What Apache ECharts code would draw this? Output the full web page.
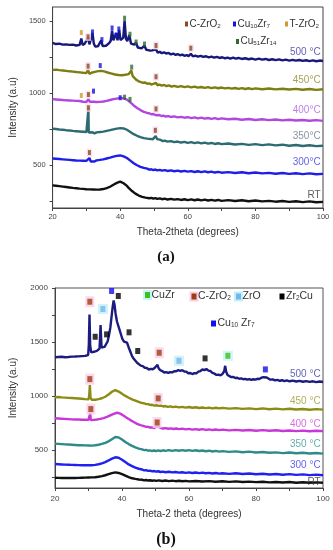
<!DOCTYPE html>
<html><head><meta charset="utf-8">
<script src="https://cdn.jsdelivr.net/npm/echarts@6/dist/echarts.min.js"></script>
<style>html,body{margin:0;padding:0;background:#fff}#c{width:333px;height:550px}</style>
</head><body><div id="c"></div>
<script>
// ---------- Panel (a) curves: [2theta, intensity] ----------
const a500 = [[20,1350],[20.5,1358],[21,1342],[21.5,1352],[22,1345],[22.5,1354],[23,1338],[23.5,1348],[24,1340],[24.5,1350],[25,1336],[25.5,1346],[26,1338],[26.5,1345],[27,1332],[27.5,1342],[28,1336],[28.5,1380],[28.9,1335],[29.5,1344],[30,1338],[30.5,1388],[30.9,1340],[31.3,1350],[31.8,1420],[32.2,1345],[32.6,1325],[33,1318],[33.4,1326],[33.9,1330],[34.4,1368],[34.8,1328],[35.3,1322],[35.8,1330],[36.3,1340],[36.8,1350],[37.2,1365],[37.6,1435],[38,1368],[38.4,1372],[38.8,1418],[39.2,1368],[39.7,1440],[40.1,1370],[40.5,1362],[40.9,1385],[41.3,1505],[41.7,1380],[42.1,1362],[42.7,1405],[43.2,1345],[43.7,1332],[44.2,1338],[44.7,1352],[45.2,1318],[45.7,1322],[46.3,1312],[46.8,1318],[47.2,1330],[47.7,1302],[48.3,1300],[48.9,1296],[49.5,1298],[50,1292],[50.6,1305],[51.1,1282],[51.7,1288],[52.3,1278],[53,1284],[53.6,1276],[54.3,1280],[55,1270],[55.7,1276],[56.4,1266],[57,1272],[57.7,1264],[58.4,1268],[59,1260],[59.7,1265],[60.3,1258],[60.9,1275],[61.5,1256],[62.2,1262],[63,1254],[63.8,1259],[64.6,1252],[65.4,1257],[66.2,1249],[67,1254],[67.8,1247],[68.6,1252],[69.4,1245],[70.2,1250],[71,1243],[71.8,1248],[72.6,1241],[73.4,1247],[74.2,1240],[75,1245],[76,1238],[77,1243],[78,1236],[79,1241],[80,1234],[81,1240],[82,1233],[83,1238],[84,1231],[85,1236],[86,1230],[87,1235],[88,1228],[89,1233],[90,1227],[91,1232],[92,1226],[93,1231],[94,1225],[95,1229],[96,1223],[97,1228],[98,1222],[99,1227],[100,1224]];
const a450 = [[20,1162],[20.5,1156],[21,1164],[21.5,1155],[22,1160],[22.5,1150],[23,1158],[23.5,1148],[24,1155],[24.5,1146],[25,1152],[25.5,1144],[26,1150],[26.5,1141],[27,1147],[27.5,1139],[28,1145],[28.5,1136],[29,1142],[29.5,1134],[30,1140],[30.5,1162],[30.9,1134],[31.5,1142],[32,1138],[32.5,1148],[33,1143],[33.5,1153],[34,1146],[34.5,1155],[35,1146],[35.5,1150],[36,1138],[36.5,1142],[37,1132],[37.5,1136],[38,1126],[38.5,1130],[39,1121],[39.5,1126],[40,1118],[40.5,1125],[41,1120],[41.5,1128],[42,1124],[42.5,1132],[43,1136],[43.3,1158],[43.7,1118],[44.2,1105],[44.7,1094],[45.2,1090],[45.7,1080],[46.2,1082],[46.8,1072],[47.4,1074],[48,1065],[48.6,1068],[49.2,1060],[49.8,1064],[50.3,1058],[50.6,1072],[51,1055],[51.6,1060],[52.3,1052],[53,1057],[53.7,1049],[54.4,1054],[55.2,1046],[56,1051],[57,1044],[58,1049],[59,1042],[60,1047],[61,1040],[62,1045],[63,1038],[64,1043],[65,1037],[66,1042],[67,1035],[68,1040],[69,1034],[70,1039],[71,1033],[72,1037],[73,1031],[74,1036],[75,1030],[76,1035],[77,1029],[78,1034],[79,1028],[80,1033],[82,1027],[84,1032],[86,1026],[88,1031],[90,1025],[92,1030],[94,1024],[96,1029],[98,1023],[100,1027]];
const a400 = [[20,958],[20.5,950],[21,956],[21.5,948],[22,954],[22.5,946],[23,952],[23.5,944],[24,950],[24.5,943],[25,949],[25.5,941],[26,948],[26.5,940],[27,946],[27.5,939],[28,945],[28.5,952],[29,940],[29.5,946],[30,938],[30.6,958],[31,940],[31.5,946],[32,940],[32.5,945],[33,938],[33.5,944],[34,939],[34.5,946],[35,942],[35.5,950],[36,946],[36.5,954],[37,952],[37.5,960],[38,958],[38.5,966],[39,962],[39.5,970],[40,966],[40.5,972],[41,964],[41.5,966],[42,955],[42.5,950],[43,936],[43.5,926],[44,914],[44.5,906],[45,896],[45.5,892],[46,882],[46.5,878],[47,870],[47.5,868],[48,862],[48.6,860],[49.2,853],[49.8,855],[50.4,848],[50.6,856],[51,846],[51.6,848],[52.2,841],[52.8,843],[53.5,837],[54.2,840],[55,834],[56,838],[57,831],[58,835],[59,829],[60,833],[61,826],[62,831],[63,824],[64,829],[65,822],[66,827],[67,821],[68,826],[69,819],[70,824],[72,818],[74,822],[76,815],[78,820],[80,813],[82,818],[84,812],[86,816],[88,810],[90,815],[92,809],[94,813],[96,808],[98,812],[100,807]];
const a350 = [[20,752],[20.5,742],[21,750],[21.5,740],[22,747],[22.5,737],[23,745],[23.5,735],[24,742],[24.5,732],[25,740],[25.5,730],[26,737],[26.5,728],[27,735],[27.5,726],[28,733],[28.5,724],[29,731],[29.5,723],[30,729],[30.5,724],[30.6,892],[30.7,726],[31.2,720],[31.8,728],[32.4,720],[33,727],[33.5,721],[34,729],[34.5,724],[35,732],[35.5,728],[36,737],[36.5,733],[37,742],[37.5,738],[38,748],[38.5,743],[39,753],[39.5,747],[40,756],[40.5,749],[41,754],[41.5,745],[42,745],[42.5,735],[43,730],[43.5,720],[44,714],[44.5,706],[45,703],[45.5,695],[46,694],[46.5,687],[47,687],[47.5,681],[48,683],[48.5,678],[49,681],[49.6,678],[50.1,684],[50.5,702],[50.9,680],[51.4,672],[52,674],[52.6,666],[53.2,669],[54,662],[55,666],[56,659],[57,663],[58,656],[59,661],[60,654],[61,659],[62,652],[63,657],[64,650],[65,655],[66,648],[67,653],[68,646],[69,651],[70,645],[72,649],[74,642],[76,647],[78,640],[80,645],[82,638],[84,643],[86,636],[88,641],[90,634],[92,639],[94,632],[96,637],[98,631],[100,634]];
const a300 = [[20,545],[20.5,537],[21,543],[21.5,535],[22,541],[22.5,533],[23,539],[23.5,531],[24,537],[24.5,529],[25,535],[25.5,527],[26,533],[26.5,525],[27,531],[27.5,524],[28,530],[28.5,523],[29,529],[29.5,522],[30,528],[30.5,530],[30.9,548],[31.3,524],[31.8,530],[32.4,524],[33,532],[33.5,527],[34,535],[34.5,530],[35,539],[35.5,535],[36,545],[36.5,541],[37,551],[37.5,548],[38,558],[38.5,554],[39,563],[39.5,558],[40,566],[40.5,558],[41,560],[41.5,550],[42,548],[42.5,536],[43,530],[43.5,518],[44,512],[44.5,502],[45,498],[45.5,489],[46,487],[46.5,479],[47,479],[47.5,472],[48,474],[48.6,467],[49.2,470],[49.8,464],[50.4,468],[51,462],[51.7,466],[52.4,460],[53.2,464],[54,458],[55,462],[56,456],[57,460],[58,454],[59,459],[60,453],[61,457],[62,451],[63,456],[64,450],[65,455],[66,449],[67,453],[68,447],[69,452],[70,446],[72,450],[74,444],[76,449],[78,442],[80,447],[82,441],[84,445],[86,439],[88,444],[90,438],[92,442],[94,436],[96,441],[98,435],[100,438]];
const aRT = [[20,358],[20.5,350],[21,355],[21.5,347],[22,352],[22.5,344],[23,349],[23.5,341],[24,346],[24.5,338],[25,343],[25.5,335],[26,340],[26.5,333],[27,338],[27.5,330],[28,335],[28.5,328],[29,333],[29.5,326],[30,331],[30.5,325],[31,330],[31.5,324],[32,329],[32.5,323],[33,328],[33.5,323],[34,329],[34.5,325],[35,332],[35.5,330],[36,338],[36.5,338],[37,348],[37.5,350],[38,362],[38.5,365],[39,375],[39.5,376],[40,384],[40.5,376],[41,372],[41.5,360],[42,354],[42.5,340],[43,332],[43.5,318],[44,312],[44.5,300],[45,297],[45.5,287],[46,286],[46.5,278],[47,279],[47.5,272],[48,274],[48.6,268],[49.2,271],[49.8,265],[50.4,269],[51,263],[51.7,267],[52.4,261],[53.2,265],[54,259],[55,264],[56,258],[57,262],[58,256],[59,261],[60,255],[61,260],[62,254],[63,259],[64,253],[65,258],[66,252],[67,257],[68,251],[69,256],[70,250],[72,255],[74,249],[76,254],[78,247],[80,252],[82,246],[84,250],[86,244],[88,249],[90,243],[92,247],[94,241],[96,246],[98,240],[100,243]];

// ---------- Panel (b) curves ----------
const b500 = [[20,1360],[20.5,1350],[21,1362],[21.5,1352],[22,1364],[22.5,1354],[23,1360],[23.5,1350],[24,1362],[24.5,1352],[25,1365],[25.5,1355],[26,1366],[26.5,1356],[27,1368],[27.5,1358],[28,1370],[28.5,1360],[29,1372],[29.5,1364],[29.9,1380],[30.1,1480],[30.3,1755],[30.5,1470],[30.8,1405],[31.2,1398],[31.6,1410],[32,1402],[32.5,1418],[33,1412],[33.3,1440],[33.6,1657],[33.9,1450],[34.3,1448],[34.8,1455],[35.3,1470],[35.7,1505],[36.1,1560],[36.5,1630],[36.9,1740],[37.2,1820],[37.5,1885],[37.8,1840],[38.1,1760],[38.5,1690],[38.9,1650],[39.3,1610],[39.7,1570],[40.1,1530],[40.6,1505],[41.1,1492],[41.5,1495],[42,1450],[42.5,1410],[43,1370],[43.5,1345],[44,1330],[44.5,1308],[45,1298],[45.6,1282],[46.2,1278],[46.8,1262],[47.4,1260],[48,1246],[48.6,1252],[49.2,1248],[49.8,1262],[50.3,1275],[50.6,1290],[50.9,1260],[51.4,1240],[52,1232],[52.6,1218],[53.2,1222],[53.8,1214],[54.4,1222],[55,1220],[55.6,1230],[56.2,1230],[56.8,1240],[57.4,1234],[58,1240],[58.6,1228],[59.2,1226],[59.8,1212],[60.4,1214],[61,1204],[61.6,1212],[62.2,1210],[62.8,1226],[63.4,1232],[64,1246],[64.6,1240],[65.2,1250],[65.8,1236],[66.4,1232],[67,1214],[67.6,1208],[68.2,1196],[68.8,1198],[69.4,1192],[70,1205],[70.5,1230],[70.8,1280],[71.1,1225],[71.5,1195],[72,1184],[72.6,1176],[73.2,1178],[73.8,1168],[74.4,1170],[75,1160],[75.6,1164],[76.2,1156],[76.8,1160],[77.4,1152],[78,1158],[78.6,1150],[79.2,1156],[79.8,1152],[80.4,1160],[81,1158],[81.6,1170],[82.2,1175],[82.7,1190],[83.2,1172],[83.7,1160],[84.3,1152],[85,1154],[85.7,1145],[86.4,1150],[87.1,1142],[87.8,1147],[88.5,1139],[89.2,1145],[90,1137],[91,1143],[92,1135],[93,1141],[94,1133],[95,1139],[96,1131],[97,1137],[98,1129],[99,1135],[100,1130]];
const b450 = [[20,990],[20.5,982],[21,992],[21.5,980],[22,988],[22.5,978],[23,986],[23.5,976],[24,984],[24.5,974],[25,982],[25.5,972],[26,980],[26.5,970],[27,978],[27.5,968],[28,975],[28.5,966],[29,972],[29.5,964],[30,970],[30.2,1000],[30.4,1102],[30.6,985],[31,966],[31.5,972],[32,966],[32.5,975],[33,972],[33.5,982],[34,980],[34.5,992],[35,994],[35.5,1008],[36,1015],[36.5,1032],[37,1040],[37.5,1058],[38,1055],[38.5,1060],[39,1042],[39.5,1040],[40,1022],[40.5,1018],[41,1002],[41.5,998],[42,985],[42.5,982],[43,970],[43.5,968],[44,958],[44.5,955],[45,946],[45.5,944],[46,935],[46.6,934],[47.2,926],[47.8,926],[48.4,918],[49,920],[49.6,912],[50.2,915],[50.6,928],[51,910],[51.6,912],[52.3,904],[53,908],[53.7,900],[54.4,905],[55.2,898],[56,903],[57,896],[58,901],[59,894],[60,899],[61,892],[62,897],[63,890],[64,895],[65,889],[66,894],[67,887],[68,892],[69,886],[70,891],[72,884],[74,889],[76,882],[78,887],[80,880],[82,886],[84,879],[86,884],[88,877],[90,883],[92,876],[94,881],[96,874],[98,880],[100,875]];
const b400 = [[20,795],[20.5,786],[21,793],[21.5,784],[22,791],[22.5,782],[23,789],[23.5,780],[24,787],[24.5,778],[25,785],[25.5,777],[26,784],[26.5,776],[27,783],[27.5,775],[28,782],[28.5,774],[29,781],[29.5,773],[30,780],[30.3,782],[30.5,842],[30.7,778],[31,772],[31.5,780],[32,775],[32.5,784],[33,780],[33.5,790],[34,786],[34.5,797],[35,795],[35.5,808],[36,808],[36.5,822],[37,824],[37.5,836],[38,836],[38.5,846],[39,840],[39.5,838],[40,826],[40.5,818],[41,806],[41.5,798],[42,786],[42.5,778],[43,766],[43.5,760],[44,748],[44.5,743],[45,734],[45.5,731],[46,724],[46.6,722],[47.2,715],[47.8,716],[48.4,709],[49,711],[49.6,705],[50.1,710],[50.5,722],[50.9,704],[51.5,707],[52.2,700],[53,704],[53.8,698],[54.6,702],[55.4,696],[56.2,700],[57,694],[58,699],[59,692],[60,697],[61,690],[62,695],[63,689],[64,694],[65,687],[66,692],[67,686],[68,691],[69,685],[70,690],[72,683],[74,688],[76,682],[78,687],[80,680],[82,685],[84,679],[86,684],[88,677],[90,682],[92,676],[94,681],[96,675],[98,680],[100,676]];
const b350 = [[20,560],[20.5,550],[21,558],[21.5,548],[22,556],[22.5,546],[23,554],[23.5,544],[24,552],[24.5,542],[25,550],[25.5,540],[26,548],[26.5,538],[27,546],[27.5,537],[28,545],[28.5,536],[29,544],[29.5,535],[30,543],[30.5,535],[31,542],[31.5,536],[32,545],[32.5,540],[33,550],[33.5,547],[34,558],[34.5,556],[35,568],[35.5,568],[36,582],[36.5,586],[37,602],[37.5,608],[38,622],[38.5,620],[39,618],[39.5,606],[40,598],[40.5,584],[41,576],[41.5,562],[42,556],[42.5,544],[43,540],[43.5,528],[44,526],[44.5,516],[45,515],[45.5,506],[46,507],[46.6,500],[47.2,502],[47.8,495],[48.4,498],[49,492],[49.6,497],[50.2,491],[50.8,498],[51.5,492],[52.2,499],[53,493],[54,500],[55,494],[56,501],[57,495],[58,501],[59,495],[60,500],[61,494],[62,499],[63,492],[64,497],[65,490],[66,495],[67,488],[68,493],[69,486],[70,491],[72,484],[74,489],[76,481],[78,486],[80,478],[82,483],[84,476],[86,480],[88,473],[90,478],[92,471],[94,476],[96,469],[98,474],[100,468]];
const b300 = [[20,372],[20.5,362],[21,370],[21.5,360],[22,368],[22.5,358],[23,366],[23.5,357],[24,365],[24.5,356],[25,364],[25.5,355],[26,363],[26.5,354],[27,362],[27.5,353],[28,361],[28.5,352],[29,360],[29.5,352],[30,360],[30.5,353],[31,361],[31.5,355],[32,364],[32.5,360],[33,370],[33.5,368],[34,378],[34.5,378],[35,390],[35.5,392],[36,405],[36.5,410],[37,422],[37.5,426],[38,434],[38.5,432],[39,430],[39.5,420],[40,412],[40.5,398],[41,390],[41.5,375],[42,368],[42.5,356],[43,352],[43.5,340],[44,338],[44.5,328],[45,328],[45.5,320],[46,321],[46.6,313],[47.2,315],[47.8,308],[48.4,311],[49,304],[49.6,307],[50.2,301],[50.8,305],[51.5,298],[52.2,302],[53,296],[54,300],[55,294],[56,298],[57,292],[58,296],[59,290],[60,295],[61,289],[62,293],[63,287],[64,292],[65,286],[66,290],[67,284],[68,289],[69,283],[70,287],[72,281],[74,286],[76,279],[78,284],[80,277],[82,282],[84,275],[86,280],[88,273],[90,278],[92,271],[94,276],[96,269],[98,274],[100,268]];
const bRT = [[20,245],[20.5,238],[21,244],[21.5,237],[22,243],[22.5,236],[23,242],[23.5,236],[24,242],[24.5,236],[25,242],[25.5,237],[26,243],[26.5,237],[27,244],[27.5,238],[28,245],[28.5,239],[29,246],[29.5,240],[30,247],[30.5,241],[31,248],[31.5,243],[32,250],[32.5,246],[33,254],[33.5,252],[34,260],[34.5,260],[35,268],[35.5,270],[36,278],[36.5,282],[37,288],[37.5,290],[38,294],[38.5,290],[39,289],[39.5,282],[40,278],[40.5,268],[41,264],[41.5,254],[42,250],[42.5,242],[43,240],[43.5,234],[44,234],[44.5,228],[45,229],[45.5,224],[46,226],[46.6,221],[47.2,224],[47.8,219],[48.4,222],[49,217],[49.6,221],[50.2,216],[51,220],[52,215],[53,219],[54,214],[55,218],[56,213],[57,217],[58,212],[59,216],[60,211],[62,215],[64,210],[66,214],[68,208],[70,212],[72,207],[74,211],[76,205],[78,209],[80,204],[82,208],[84,202],[86,206],[88,201],[90,205],[92,199],[94,203],[96,198],[98,202],[100,199]];

// ---------- Phase markers ----------
const aMarkCZrO2   = [[30.5,1392],[50.6,1332],[60.9,1313],[30.5,1188],[50.6,1114],[30.6,990],[50.6,890],[30.6,898],[50.4,741],[30.9,586]];
const aMarkCu10Zr7 = [[31.8,1426],[34.6,1373],[37.6,1454],[38.8,1405],[39.6,1447],[34.1,1192],[32.1,1014],[40.0,968]];
const aMarkTZrO2   = [[28.5,1422],[28.5,984]];
const aMarkCu51Zr14= [[41.3,1522],[42.9,1410],[44.7,1356],[47.2,1342],[43.4,1181],[41.3,972],[42.9,956]];
const bMarkCuZr    = [[71.6,1373]];
const bMarkCZrO2   = [[30.4,1873],[51.1,1401],[30.4,1157],[50.8,979],[30.7,880],[50.5,756]];
const bMarkZrO     = [[34.3,1806],[57.0,1327]];
const bMarkZr2Cu   = [[32.0,1549],[35.4,1571],[38.9,1926],[42.1,1590],[44.7,1417],[64.8,1349]];
const bMarkCu10Zr7 = [[36.9,1972],[82.8,1247]];

// ---------- Curve labels ----------
const aLabelText = ['500 °C','450°C','400°C','350°C','300°C','RT'];
const aLabelY    = [1287,1093,878,697,517,287];
const bLabelText = ['500 °C','450 °C','400 °C','350 °C','300 °C','RT'];
const bLabelY    = [1204,950,741,556,361,206];

// ---------- Axes ----------
const xMin = 20, xMax = 100, xStep = 10, xLabelStep = 20;
const aYMin = 200, aYMax = 1600, aYLabels = [500,1000,1500], aYTicks = [250,500,750,1000,1250,1500];
const bYMin = 150, bYMax = 2000, bYLabels = [500,1000,1500,2000], bYTicks = [250,500,750,1000,1250,1500,1750,2000];

const FONT = '"Liberation Sans", Arial, sans-serif';
const aColors = ['#17177c','#7d7d12','#b048e0','#2d6b72','#1e1ee8','#111111'];
const bColors = ['#1b1b80','#8c8c14','#c838d8','#2f8a8a','#2020f0','#111111'];
const aLblColors = ['#3838a8','#8c8c28','#b060e8','#667a88','#3838e8','#333333'];
const bLblColors = ['#3a3aa8','#9a9a30','#d048d8','#3a9898','#3a3ae8','#333333'];

const chart = echarts.init(document.getElementById('c'), null, {renderer:'canvas'});

function xAxisDef(gi, name, gap, lblSize, lblMargin){
  return {gridIndex:gi, type:'value', min:xMin, max:xMax, interval:xStep,
    name:name, nameLocation:'middle', nameGap:gap,
    nameTextStyle:{fontFamily:FONT, fontSize:10, color:'#333'},
    axisLine:{show:true, lineStyle:{color:'#444', width:1}},
    axisTick:{show:true, length:3, lineStyle:{color:'#444'}},
    axisLabel:{fontFamily:FONT, fontSize:lblSize, color:'#444', margin:lblMargin,
      formatter: v => (v % xLabelStep === 0 ? String(v) : '')},
    splitLine:{show:false}};
}
function yAxisDef(gi, min, max, labels, ticks, gap, lblSize){
  return {gridIndex:gi, type:'value', min:min, max:max,
    name:'Intensity (a.u)', nameLocation:'middle', nameGap:gap,
    nameTextStyle:{fontFamily:FONT, fontSize:10, color:'#333'},
    axisLine:{show:true, lineStyle:{color:'#444', width:1}},
    axisTick:{show:true, length:3, customValues:ticks, lineStyle:{color:'#444'}},
    axisLabel:{fontFamily:FONT, fontSize:lblSize, color:'#444', margin:7, customValues:labels,
      formatter: v => String(v)},
    splitLine:{show:false}};
}

const series = [];
function addCurves(list, colors, xi){
  list.forEach((d,i)=>{
    series.push({type:'line', xAxisIndex:xi, yAxisIndex:xi, data:d, showSymbol:false,
      lineStyle:{color:colors[i], width:2.4}, silent:true, z:2, animation:false});
  });
}
addCurves([a500,a450,a400,a350,a300,aRT], aColors, 0);
addCurves([b500,b450,b400,b350,b300,bRT], bColors, 1);

function addMarks(d, color, size, xi, bg, bgSize){
  if (bg) series.push({type:'scatter', xAxisIndex:xi, yAxisIndex:xi, data:d, symbol:'rect',
    symbolSize:bgSize, itemStyle:{color:bg}, silent:true, z:3, animation:false});
  series.push({type:'scatter', xAxisIndex:xi, yAxisIndex:xi, data:d, symbol:'rect',
    symbolSize:size, itemStyle:{color:color}, silent:true, z:4, animation:false});
}
addMarks(aMarkCZrO2, '#8a4a22', [3,5], 0, '#fbe0ef', [6,8]);
addMarks(aMarkCu10Zr7, '#1515e0', [3,5], 0);
addMarks(aMarkTZrO2, '#d09a30', [3,5], 0);
addMarks(aMarkCu51Zr14, '#2f6a2f', [3,5], 0);
addMarks(bMarkCuZr, '#3cc020', [5,6], 1, '#c8f4f6', [10,10]);
addMarks(bMarkCZrO2, '#a03c10', [5,6], 1, '#f9cfe8', [9,11]);
addMarks(bMarkZrO, '#7ab4ee', [5,6], 1, '#c2f0f8', [10,10]);
addMarks(bMarkZr2Cu, '#000000', [5,6], 1);
addMarks(bMarkCu10Zr7, '#1010e8', [5,6], 1);

function addLabels(texts, ys, colors, xi){
  series.push({type:'scatter', xAxisIndex:xi, yAxisIndex:xi, symbolSize:0, silent:true, z:5, animation:false,
    data: texts.map((t,i)=>({name:t, value:[99.3, ys[i]],
      label:{show:true, position:'left', distance:0, formatter:t, color:colors[i],
        fontFamily:FONT, fontSize:10}}))});
}
addLabels(aLabelText, aLabelY, aLblColors, 0);
addLabels(bLabelText, bLabelY, bLblColors, 1);

// legend entries (position, colour, rich text)
function legendItem(x, y, color, text, fs, mw, mh, bg){
  const els = [];
  if (bg) els.push({type:'rect', shape:{x:x-2, y:y-5, width:mw+4, height:10}, style:{fill:bg}});
  els.push({type:'rect', shape:{x:x, y:y-mh/2, width:mw, height:mh}, style:{fill:color}});
  els.push({type:'text', x:x+mw+1.5, y:y, style:{text:text, verticalAlign:'middle', align:'left',
    rich:{n:{fontSize:fs, fontFamily:FONT, fill:'#333', lineHeight:fs+2, verticalAlign:'middle'},
          s:{fontSize:fs*0.62, fontFamily:FONT, fill:'#333', padding:[4,0,0,0], verticalAlign:'middle'}}}});
  return els;
}
const graphics = [].concat(
  legendItem(185, 24, '#8a4a22', '{n|C-ZrO}{s|2}', 10, 3, 5),
  legendItem(233, 24, '#1515e0', '{n|Cu}{s|10}{n|Zr}{s|7}', 10, 3, 5),
  legendItem(285, 24, '#d09a30', '{n|T-ZrO}{s|2}', 10, 3, 5),
  legendItem(236, 41.5, '#2f6a2f', '{n|Cu}{s|51}{n|Zr}{s|14}', 10, 3, 5),
  legendItem(145, 295, '#3cc020', '{n|CuZr}', 10.5, 5, 6, '#c8f4f6'),
  legendItem(191.5, 296.5, '#a03c10', '{n|C-ZrO}{s|2}', 10.5, 5, 6, '#f9cfe8'),
  legendItem(236, 296.5, '#7ab4ee', '{n|ZrO}', 10.5, 5, 6, '#c2f0f8'),
  legendItem(279.5, 296.5, '#000000', '{n|Zr}{s|2}{n|Cu}', 10.5, 5, 6),
  legendItem(211, 323.5, '#1010e8', '{n|Cu}{s|10}{n| Zr}{s|7}', 10.5, 5, 6),
  [{type:'text', x:166, y:257, style:{text:'(a)', align:'center', verticalAlign:'middle',
     font:'bold 15px "Liberation Serif", "Times New Roman", serif', fill:'#111'}},
   {type:'text', x:166, y:540, style:{text:'(b)', align:'center', verticalAlign:'middle',
     font:'bold 16px "Liberation Serif", "Times New Roman", serif', fill:'#111'}}]
);

chart.setOption({
  animation:false,
  backgroundColor:'#ffffff',
  grid:[
    {left:51, top:7, width:272, height:201, show:true, borderColor:'#444', borderWidth:1, backgroundColor:'transparent'},
    {left:50, top:288, width:273, height:200, show:true, borderColor:'#555', borderWidth:1, backgroundColor:'transparent'}
  ],
  xAxis:[xAxisDef(0,'Theta-2theta (degrees)',19,7.5,5), xAxisDef(1,'Theta-2 theta (degrees)',21,8,7)],
  yAxis:[yAxisDef(0,aYMin,aYMax,aYLabels,aYTicks,33,7.5), yAxisDef(1,bYMin,bYMax,bYLabels,bYTicks,37,8)],
  series:series,
  graphic:graphics
});
</script></body></html>
